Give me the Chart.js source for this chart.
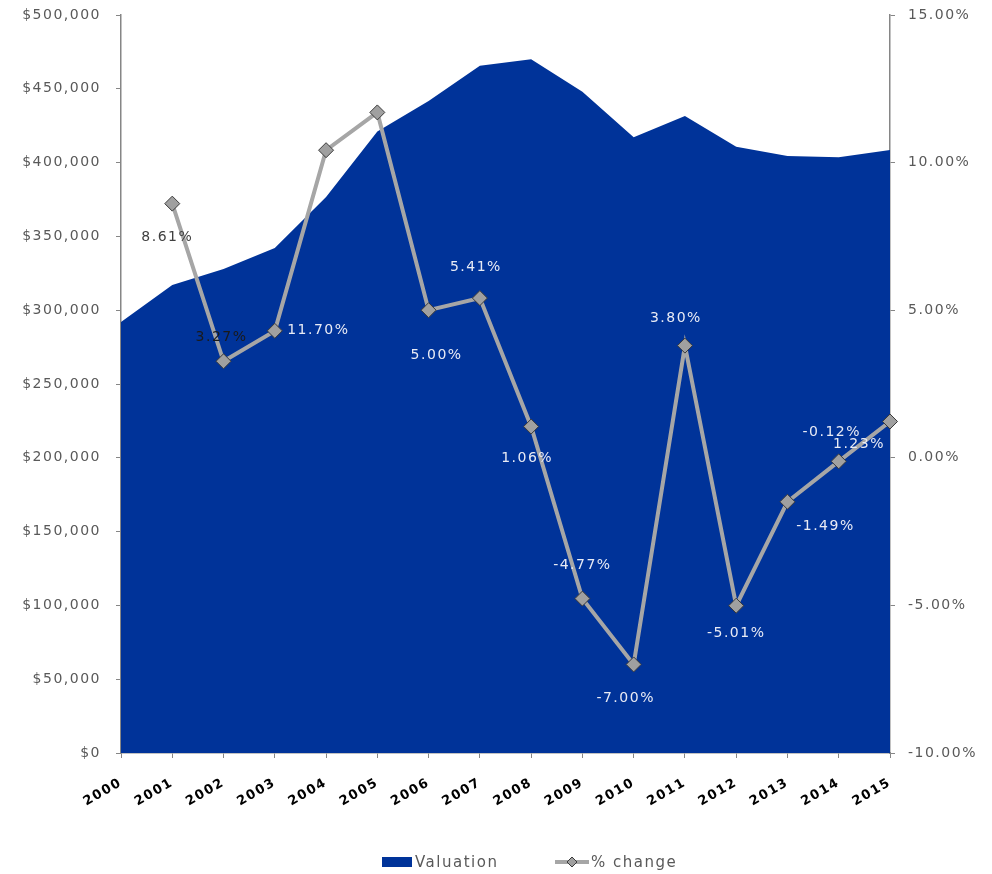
<!DOCTYPE html>
<html>
<head>
<meta charset="utf-8">
<script src="https://cdn.jsdelivr.net/npm/chart.js@4/dist/chart.umd.min.js"></script>
<style>
  html, body { margin: 0; padding: 0; background: #fff; }
  #wrap { width: 992px; height: 874px; position: relative; }
</style>
</head>
<body>
<div id="wrap"><canvas id="valuationChart"></canvas></div>
<script>
const years = ['2000', '2001', '2002', '2003', '2004', '2005', '2006', '2007',
  '2008', '2009', '2010', '2011', '2012', '2013', '2014', '2015'];
const valuation = [292000, 317100, 327900, 342100, 376700, 421000, 441700, 465600,
  470000, 448000, 417100, 431600, 410800, 404500, 403600, 408500];
const pctChange = [null, 8.61, 3.27, 4.30, 10.42, 11.70, 5.00, 5.41,
  1.06, -4.77, -7.00, 3.80, -5.01, -1.49, -0.12, 1.23];
// 2003 and 2004 carry no visible label
const pctLabelShown = [false, true, true, false, false, true, true, true,
  true, true, true, true, true, true, true, true];

// label placement relative to each marker (px) and text colour
const labelOffsets = [[0, 0], [-5, 34], [-2, -24], [0, 0], [0, 0], [-59, 218], [8, 45], [-4, -31],
  [-4, 32], [0, -33], [-8, 34], [-9, -27], [0, 28], [38, 25], [-7, -29], [-31, 23]];
const labelColors = ['#fff', '#404040', '#1a1a1a', '#fff', '#fff', '#e8ebf5', '#e8ebf5', '#e8ebf5',
  '#e8ebf5', '#e8ebf5', '#e8ebf5', '#e8ebf5', '#e8ebf5', '#e8ebf5', '#e8ebf5', '#e8ebf5'];

const BLUE = '#003399';
const LINE_GREY = '#a6a6a6';
const AXIS_GREY = '#868686';
const TEXT_GREY = '#595959';
const FONT = "'DejaVu Sans', Verdana, sans-serif";

// wide text look for all canvas text
const spacingPlugin = {
  id: 'spacing',
  beforeUpdate(chart) { chart.ctx.letterSpacing = '1.5px'; },
  beforeDraw(chart) { chart.ctx.letterSpacing = '1.5px'; },
};

// % change value labels
const pctLabelsPlugin = {
  id: 'pctLabels',
  afterDatasetsDraw(chart) {
    const meta = chart.getDatasetMeta(1);
    const { ctx } = chart;
    ctx.save();
    ctx.font = `14px ${FONT}`;
    ctx.textAlign = 'center';
    ctx.textBaseline = 'middle';
    meta.data.forEach((pt, i) => {
      if (!pctLabelShown[i] || pctChange[i] === null) return;
      const [dx, dy] = labelOffsets[i];
      ctx.fillStyle = labelColors[i];
      ctx.fillText(`${pctChange[i].toFixed(2)}%`, pt.x + dx, pt.y + dy);
    });
    ctx.restore();
  },
};

// bottom legend: blue box for the area, grey line with diamond for % change
const legendPlugin = {
  id: 'bottomLegend',
  afterDraw(chart) {
    const { ctx } = chart;
    const y = chart.height - 12;
    let x = 382;
    ctx.save();
    ctx.font = `15px ${FONT}`;
    ctx.textAlign = 'left';
    ctx.textBaseline = 'middle';

    const area = chart.data.datasets[0];
    ctx.fillStyle = area.backgroundColor;
    ctx.fillRect(x, y - 5, 30, 10);
    ctx.fillStyle = TEXT_GREY;
    ctx.fillText(area.label, x + 33, y + 1);

    const line = chart.data.datasets[1];
    x = 555;
    ctx.strokeStyle = line.borderColor;
    ctx.lineWidth = 4;
    ctx.beginPath(); ctx.moveTo(x, y); ctx.lineTo(x + 34, y); ctx.stroke();
    ctx.beginPath();
    ctx.moveTo(x + 17, y - 5); ctx.lineTo(x + 22, y); ctx.lineTo(x + 17, y + 5); ctx.lineTo(x + 12, y);
    ctx.closePath();
    ctx.fillStyle = line.pointBackgroundColor; ctx.fill();
    ctx.strokeStyle = line.pointBorderColor; ctx.lineWidth = 1; ctx.stroke();
    ctx.fillStyle = TEXT_GREY;
    ctx.fillText(line.label, x + 36, y + 1);
    ctx.restore();
  },
};

// fixed axis box, top label overhang kept small
function fixWidth(width) {
  return (scale) => {
    scale.width = width;
    scale.paddingTop = 15;
  };
}

const ctx = document.getElementById('valuationChart');

new Chart(ctx, {
  type: 'line',
  data: {
    labels: years,
    datasets: [{
      label: 'Valuation',
      data: valuation,
      yAxisID: 'y',
      fill: 'origin',
      backgroundColor: BLUE,
      borderWidth: 0,
      pointRadius: 0,
      tension: 0,
      order: 1,
    }, {
      label: '% change',
      data: pctChange,
      yAxisID: 'y1',
      fill: false,
      borderColor: LINE_GREY,
      borderWidth: 4,
      tension: 0,
      pointStyle: 'rectRot',
      pointRadius: 7.5,
      pointBackgroundColor: '#a0a0a0',
      pointBorderColor: '#3a3a3a',
      pointBorderWidth: 1,
      order: 0,
    }],
  },
  options: {
    responsive: true,
    maintainAspectRatio: false,
    animation: false,
    layout: {
      padding: { top: 0, left: 0, right: 0, bottom: 0 },
    },
    plugins: {
      tooltip: { enabled: false },
      legend: { display: false },
    },
    scales: {
      x: {
        offset: false,
        grid: { drawOnChartArea: false, color: AXIS_GREY, tickLength: 5 },
        border: { color: AXIS_GREY, width: 1.5 },
        ticks: {
          color: '#000',
          font: { family: FONT, size: 13, weight: 'bold' },
          minRotation: 30,
          maxRotation: 30,
          padding: 17,
        },
        afterFit(scale) { scale.height = 121; },
      },
      y: {
        position: 'left',
        min: 0,
        max: 500000,
        grid: { drawOnChartArea: false, color: AXIS_GREY, tickLength: 5 },
        border: { color: AXIS_GREY, width: 1.5 },
        ticks: {
          stepSize: 50000,
          color: TEXT_GREY,
          padding: 15,
          font: { family: FONT, size: 14 },
          callback: (v) => `$${v.toLocaleString('en-US')}`,
        },
        afterFit: fixWidth(121),
      },
      y1: {
        position: 'right',
        min: -10,
        max: 15,
        grid: { drawOnChartArea: false, color: AXIS_GREY, tickLength: 5 },
        border: { color: AXIS_GREY, width: 1.5 },
        ticks: {
          stepSize: 5,
          color: TEXT_GREY,
          padding: 13,
          font: { family: FONT, size: 14 },
          callback: (v) => `${v.toFixed(2)}%`,
        },
        afterFit: fixWidth(102),
      },
    },
  },
  plugins: [spacingPlugin, pctLabelsPlugin, legendPlugin],
});
</script>
</body>
</html>
